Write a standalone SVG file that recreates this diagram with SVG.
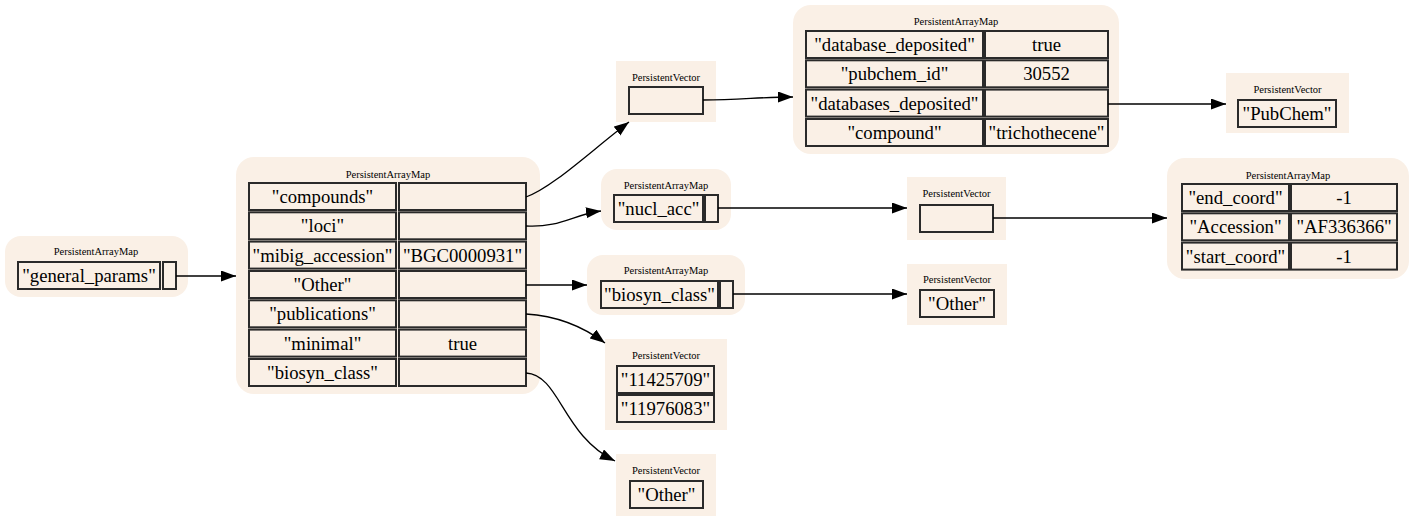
<svg xmlns="http://www.w3.org/2000/svg" width="1412" height="521" viewBox="0 0 1412 521">
<style>
  .map { fill: #faf0e6; stroke: none; }
  .vec { fill: #faf0e6; stroke: none; }
  .cell { fill: none; stroke: #2a2a2a; stroke-width: 2; }
  .title { font-family: 'Liberation Serif', 'Times New Roman', Times, serif; font-size: 10.5px; fill: #000; text-anchor: middle; }
  .txt { font-family: 'Liberation Serif', 'Times New Roman', Times, serif; font-size: 18.7px; fill: #000; text-anchor: middle; }
  .edge { fill: none; stroke: #000; stroke-width: 1.3; }
</style>
<defs>
  <marker id="arrow" markerUnits="userSpaceOnUse" markerWidth="16" markerHeight="12" refX="15" refY="5.5" orient="auto">
    <path d="M0,0 L15,5.5 L0,11 z" fill="#000"/>
  </marker>
</defs>

<g id="root-map">
  <rect class="map" x="5" y="236" width="183" height="61" rx="16"/>
  <text class="title" x="96" y="255">PersistentArrayMap</text>
  <rect class="cell" x="18" y="262" width="142" height="27"/>
  <rect class="cell" x="163" y="262" width="13" height="27"/>
  <text class="txt" x="89" y="282">"general_params"</text>
</g>

<g id="general-params-map">
  <rect class="map" x="236" y="157" width="304" height="237" rx="18"/>
  <text class="title" x="388" y="178">PersistentArrayMap</text>
  <rect class="cell" x="249" y="183" width="147" height="27"/>
  <rect class="cell" x="399" y="183" width="127" height="27"/>
  <text class="txt" x="322.5" y="203">"compounds"</text>
  <rect class="cell" x="249" y="212.3" width="147" height="27"/>
  <rect class="cell" x="399" y="212.3" width="127" height="27"/>
  <text class="txt" x="322.5" y="232.3">"loci"</text>
  <rect class="cell" x="249" y="241.6" width="147" height="27"/>
  <rect class="cell" x="399" y="241.6" width="127" height="27"/>
  <text class="txt" x="322.5" y="261.6">"mibig_accession"</text>
  <text class="txt" x="462.5" y="261.6">"BGC0000931"</text>
  <rect class="cell" x="249" y="271" width="147" height="27"/>
  <rect class="cell" x="399" y="271" width="127" height="27"/>
  <text class="txt" x="322.5" y="291">"Other"</text>
  <rect class="cell" x="249" y="300.3" width="147" height="27"/>
  <rect class="cell" x="399" y="300.3" width="127" height="27"/>
  <text class="txt" x="322.5" y="320.3">"publications"</text>
  <rect class="cell" x="249" y="329.6" width="147" height="27"/>
  <rect class="cell" x="399" y="329.6" width="127" height="27"/>
  <text class="txt" x="322.5" y="349.6">"minimal"</text>
  <text class="txt" x="462.5" y="349.6">true</text>
  <rect class="cell" x="249" y="359" width="147" height="27"/>
  <rect class="cell" x="399" y="359" width="127" height="27"/>
  <text class="txt" x="322.5" y="379">"biosyn_class"</text>
</g>

<g id="compounds-vector">
  <rect class="vec" x="616" y="61" width="100" height="61"/>
  <text class="title" x="666" y="81">PersistentVector</text>
  <rect class="cell" x="629" y="87" width="74" height="27"/>
</g>

<g id="compound-map">
  <rect class="map" x="793" y="5" width="326" height="149" rx="18"/>
  <text class="title" x="956" y="25">PersistentArrayMap</text>
  <rect class="cell" x="806" y="31" width="177" height="27"/>
  <rect class="cell" x="985" y="31" width="123" height="27"/>
  <text class="txt" x="894.5" y="51">"database_deposited"</text>
  <text class="txt" x="1046.5" y="51">true</text>
  <rect class="cell" x="806" y="60.3" width="177" height="27"/>
  <rect class="cell" x="985" y="60.3" width="123" height="27"/>
  <text class="txt" x="894.5" y="80.3">"pubchem_id"</text>
  <text class="txt" x="1046.5" y="80.3">30552</text>
  <rect class="cell" x="806" y="89.6" width="177" height="27"/>
  <rect class="cell" x="985" y="89.6" width="123" height="27"/>
  <text class="txt" x="894.5" y="109.6">"databases_deposited"</text>
  <rect class="cell" x="806" y="119" width="177" height="27"/>
  <rect class="cell" x="985" y="119" width="123" height="27"/>
  <text class="txt" x="894.5" y="139">"compound"</text>
  <text class="txt" x="1046.5" y="139">"trichothecene"</text>
</g>

<g id="databases-vector">
  <rect class="vec" x="1226" y="73" width="123" height="60"/>
  <text class="title" x="1287.5" y="93">PersistentVector</text>
  <rect class="cell" x="1238" y="100" width="98" height="27"/>
  <text class="txt" x="1287" y="120">"PubChem"</text>
</g>

<g id="loci-map">
  <rect class="map" x="601" y="169" width="130" height="61" rx="16"/>
  <text class="title" x="666" y="189">PersistentArrayMap</text>
  <rect class="cell" x="614" y="195" width="89" height="27"/>
  <rect class="cell" x="705" y="195" width="13" height="27"/>
  <text class="txt" x="658.5" y="215">"nucl_acc"</text>
</g>

<g id="nucl-acc-vector">
  <rect class="vec" x="907" y="177" width="99" height="63"/>
  <text class="title" x="956.5" y="197">PersistentVector</text>
  <rect class="cell" x="920" y="205" width="73" height="27"/>
</g>

<g id="accession-map">
  <rect class="map" x="1167" y="158" width="242" height="121" rx="18"/>
  <text class="title" x="1288" y="179">PersistentArrayMap</text>
  <rect class="cell" x="1182" y="184" width="107" height="27"/>
  <rect class="cell" x="1291" y="184" width="106" height="27"/>
  <text class="txt" x="1235.5" y="204">"end_coord"</text>
  <text class="txt" x="1344" y="204">-1</text>
  <rect class="cell" x="1182" y="213.3" width="107" height="27"/>
  <rect class="cell" x="1291" y="213.3" width="106" height="27"/>
  <text class="txt" x="1235.5" y="233.3">"Accession"</text>
  <text class="txt" x="1344" y="233.3">"AF336366"</text>
  <rect class="cell" x="1182" y="242.6" width="107" height="27"/>
  <rect class="cell" x="1291" y="242.6" width="106" height="27"/>
  <text class="txt" x="1235.5" y="262.6">"start_coord"</text>
  <text class="txt" x="1344" y="262.6">-1</text>
</g>

<g id="other-map">
  <rect class="map" x="587" y="255" width="158" height="60" rx="16"/>
  <text class="title" x="666" y="274">PersistentArrayMap</text>
  <rect class="cell" x="601" y="281" width="117" height="27"/>
  <rect class="cell" x="720" y="281" width="13" height="27"/>
  <text class="txt" x="659.5" y="301">"biosyn_class"</text>
</g>

<g id="other-vector">
  <rect class="vec" x="907" y="264" width="100" height="61"/>
  <text class="title" x="957" y="283">PersistentVector</text>
  <rect class="cell" x="920" y="290" width="74" height="27"/>
  <text class="txt" x="957" y="310">"Other"</text>
</g>

<g id="publications-vector">
  <rect class="vec" x="605" y="339" width="122" height="91"/>
  <text class="title" x="666" y="359">PersistentVector</text>
  <rect class="cell" x="617" y="366" width="97" height="27"/>
  <text class="txt" x="665.5" y="386">"11425709"</text>
  <rect class="cell" x="617" y="395" width="97" height="27"/>
  <text class="txt" x="665.5" y="415">"11976083"</text>
</g>

<g id="biosyn-class-vector">
  <rect class="vec" x="616" y="454" width="100" height="62"/>
  <text class="title" x="666" y="474">PersistentVector</text>
  <rect class="cell" x="630" y="481" width="73" height="27"/>
  <text class="txt" x="666.5" y="501">"Other"</text>
</g>

<!-- edges are drawn last so they stay visible over the node backgrounds -->
<g id="connectors">
  <path class="edge" marker-end="url(#arrow)" d="M176,276 L236,276"/>
  <path class="edge" marker-end="url(#arrow)" d="M526,197 C552,188 592,150 629,122"/>
  <path class="edge" marker-end="url(#arrow)" d="M526,226 C560,228 575,214 601,211"/>
  <path class="edge" marker-end="url(#arrow)" d="M526,285 L587,285"/>
  <path class="edge" marker-end="url(#arrow)" d="M526,314 C560,316 585,328 605,343"/>
  <path class="edge" marker-end="url(#arrow)" d="M526,373 C560,375 562,435 615,461"/>
  <path class="edge" marker-end="url(#arrow)" d="M703,100 C740,100 760,97 793,97"/>
  <path class="edge" marker-end="url(#arrow)" d="M1108,104 L1226,104"/>
  <path class="edge" marker-end="url(#arrow)" d="M718,208 L907,208"/>
  <path class="edge" marker-end="url(#arrow)" d="M993,218 L1167,218"/>
  <path class="edge" marker-end="url(#arrow)" d="M733,294 L907,294"/>
</g>
</svg>
